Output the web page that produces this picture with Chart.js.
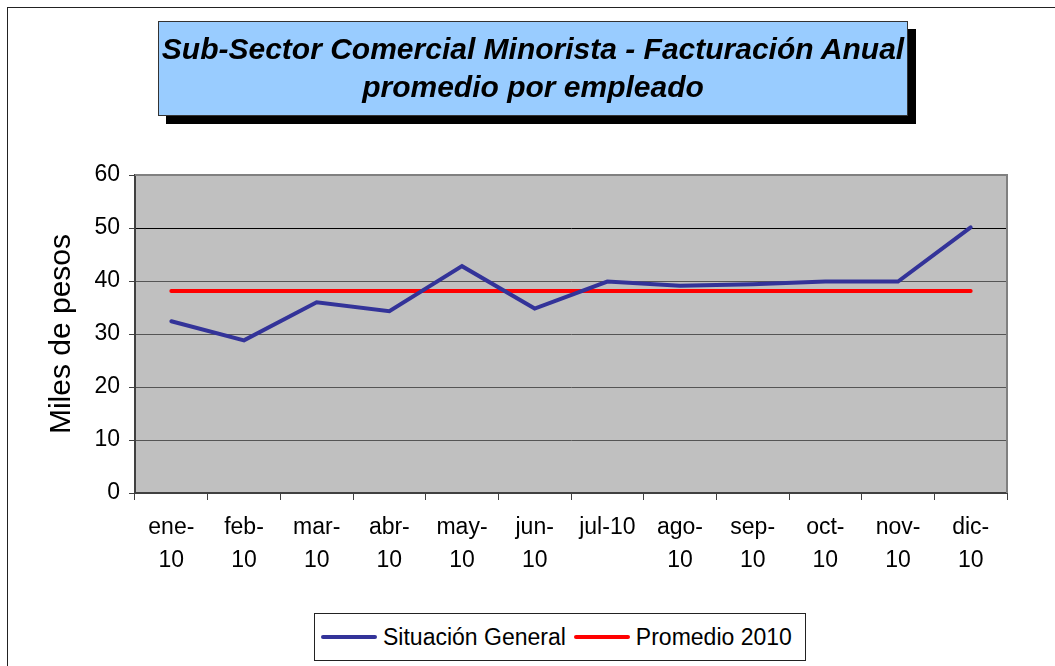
<!DOCTYPE html>
<html lang="es">
<head>
<meta charset="utf-8">
<title>Sub-Sector Comercial Minorista - Facturación Anual</title>
<script src="https://cdn.jsdelivr.net/npm/chart.js@4.4.1/dist/chart.umd.min.js"></script>
<style>
    body { margin: 0; background: #fff; font-family: "Liberation Sans", Arial, sans-serif; }
    #wrap { position: relative; width: 1055px; height: 666px; overflow: hidden; }
    #frame { position: absolute; left: 7px; top: 7px; width: 1200px; height: 800px;
             border-left: 1px solid #222; border-top: 1px solid #222; }
    #chart { position: absolute; left: 0; top: 0; }
    #titleBox { position: absolute; left: 158px; top: 21px; width: 750px; height: 95px;
                box-sizing: border-box; background: #99ccff; border: 1px solid #333;
                box-shadow: 8px 8px 0 #000; text-align: center;
                font-weight: bold; font-style: italic; font-size: 30px; line-height: 38px;
                padding-top: 8px; color: #000; white-space: nowrap; }
    #legend { position: absolute; left: 314px; top: 613px; width: 492px; height: 48px;
              box-sizing: border-box; border: 1px solid #222; background: #fff;
              display: flex; align-items: center; padding-left: 6px; font-size: 23px;
              white-space: nowrap; }
    .item { display: flex; align-items: center; margin-right: 8px; flex-shrink: 0; }
    .swatch { width: 56px; height: 4px; border-radius: 2px; margin-right: 6px; flex-shrink: 0; }
</style>
</head>
<body>
<div id="wrap">
    <div id="frame"></div>
    <canvas id="chart" width="1055" height="666"></canvas>
    <div id="titleBox">Sub-Sector Comercial Minorista - Facturación Anual<br>promedio por empleado</div>
    <div id="legend"></div>
</div>
<script>
// Datos del gráfico
const meses = [
    ["ene-", "10"], ["feb-", "10"], ["mar-", "10"], ["abr-", "10"],
    ["may-", "10"], ["jun-", "10"], "jul-10", ["ago-", "10"],
    ["sep-", "10"], ["oct-", "10"], ["nov-", "10"], ["dic-", "10"]
];
const situacionGeneral = [32.4, 28.8, 36.0, 34.3, 42.8, 34.8, 39.9, 39.1, 39.4, 39.9, 39.9, 50.1];
const promedio2010 = [38.1, 38.1, 38.1, 38.1, 38.1, 38.1, 38.1, 38.1, 38.1, 38.1, 38.1, 38.1];
const nombresSeries = ["Situación General", "Promedio 2010"];
const coloresSeries = ["#333399", "#ff0000"];
const ejeY = { min: 0, max: 60, paso: 10, titulo: "Miles de pesos" };

const fuente = "'Liberation Sans', Arial, sans-serif";

// Fondo gris del área de trazado y borde derecho/superior
const fondoPlot = {
    id: "fondoPlot",
    beforeDraw(chart) {
        const { ctx, chartArea: a } = chart;
        ctx.save();
        ctx.fillStyle = "#c0c0c0";
        ctx.fillRect(a.left, a.top, a.right - a.left, a.bottom - a.top);
        ctx.restore();
    },
    beforeDatasetsDraw(chart) {
        const { ctx, chartArea: a } = chart;
        ctx.save();
        ctx.strokeStyle = "#808080";
        ctx.lineWidth = 2;
        ctx.beginPath();
        ctx.moveTo(a.left, a.top);
        ctx.lineTo(a.right, a.top);
        ctx.lineTo(a.right, a.bottom);
        ctx.stroke();
        ctx.restore();
    }
};

const ctx = document.getElementById("chart").getContext("2d");
const chart = new Chart(ctx, {
    type: "line",
    data: {
        labels: meses,
        datasets: [
            {
                label: nombresSeries[0],
                data: situacionGeneral,
                borderColor: coloresSeries[0],
                borderWidth: 4,
                pointRadius: 0,
                tension: 0,
                borderCapStyle: "round",
                borderJoinStyle: "miter"
            },
            {
                label: nombresSeries[1],
                data: promedio2010,
                borderColor: coloresSeries[1],
                borderWidth: 4,
                pointRadius: 0,
                tension: 0,
                borderCapStyle: "round"
            }
        ]
    },
    options: {
        responsive: false,
        animation: false,
        layout: { padding: { left: 30, top: 175, right: 48, bottom: 0 } },
        plugins: {
            legend: { display: false },
            title: { display: false },
            tooltip: { enabled: false }
        },
        scales: {
            x: {
                offset: true,
                afterFit(scale) { scale.height = 173; },
                grid: {
                    offset: true,
                    drawOnChartArea: false,
                    drawTicks: true,
                    tickLength: 7,
                    tickColor: "#404040"
                },
                border: { color: "#404040", width: 2 },
                ticks: {
                    color: "#000",
                    padding: 11,
                    maxRotation: 0,
                    autoSkip: false,
                    font: { family: fuente, size: 23, lineHeight: 1.45 }
                }
            },
            y: {
                min: ejeY.min,
                max: ejeY.max,
                afterFit(scale) { scale.width = 105; },
                grid: {
                    color: (c) => c.tick && c.tick.value === 60 ? "#808080" : (c.tick && c.tick.value === 50 ? "#000" : "#555"),
                    lineWidth: 1,
                    drawTicks: true,
                    tickLength: 6,
                    tickColor: "#404040"
                },
                border: { color: "#404040", width: 2 },
                ticks: {
                    stepSize: ejeY.paso,
                    color: "#000",
                    padding: 9,
                    font: { family: fuente, size: 23 }
                },
                title: {
                    display: true,
                    text: ejeY.titulo,
                    color: "#000",
                    padding: { top: 14, bottom: 0 },
                    font: { family: fuente, size: 30, lineHeight: 1.2 }
                }
            }
        }
    },
    plugins: [fondoPlot]
});

// Leyenda en HTML
const leyenda = document.getElementById("legend");
nombresSeries.forEach((nombre, i) => {
    const item = document.createElement("div");
    item.className = "item";
    const sw = document.createElement("div");
    sw.className = "swatch";
    sw.style.background = coloresSeries[i];
    const txt = document.createElement("span");
    txt.textContent = nombre;
    item.appendChild(sw);
    item.appendChild(txt);
    leyenda.appendChild(item);
});
</script>
</body>
</html>
